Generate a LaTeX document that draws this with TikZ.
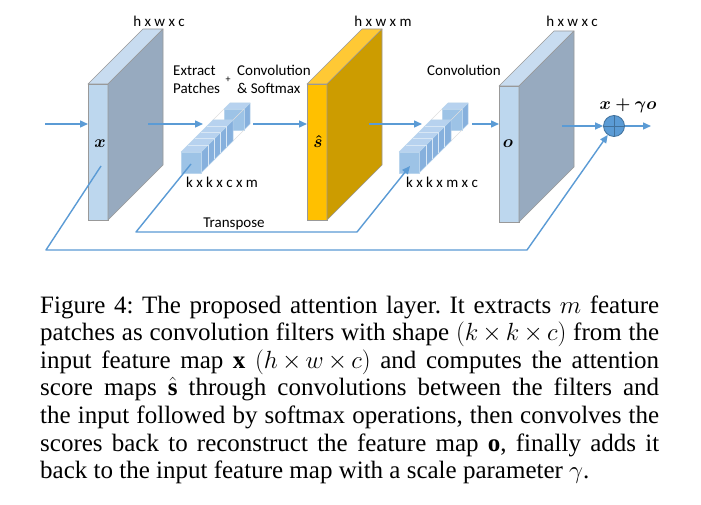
\documentclass[tikz,border=0pt]{standalone}
\usepackage{amsmath}
\usepackage{fontspec}
\setmainfont{Liberation Serif}
\newfontfamily\labfont{Carlito}
\usetikzlibrary{arrows.meta,calc}
\definecolor{arrblue}{HTML}{5B9BD5}
\definecolor{circblue}{HTML}{41719C}
\definecolor{bfront}{HTML}{BDD7EE}
\definecolor{btop}{HTML}{C8DCF0}
\definecolor{bside}{HTML}{97AABF}
\definecolor{gfront}{HTML}{FFC000}
\definecolor{gtop}{HTML}{FFC935}
\definecolor{gside}{HTML}{CC9C00}
\definecolor{cfront}{HTML}{9DC3E6}
\definecolor{ctop}{HTML}{B7D2EF}
\definecolor{cside}{HTML}{86B0DD}
\newcommand\capfmt{\fontsize{25}{27.6}\selectfont\frenchspacing}
\newcommand\capline[1]{\medmuskip=3mu\relax\makebox[619pt][s]{#1}}
\tikzset{
  slabbox/.style={rectangle,draw=gray!80,line width=0.6pt,minimum width=20pt,minimum height=136pt,inner sep=0pt,outer sep=0pt},
  slabline/.style={draw=gray!80,line width=0.6pt,line join=round},
  cubeline/.style={draw=cfront!70!white,line width=0.5pt,line join=round},
  wire/.style={draw=gray!25,line width=0.6pt},
  slice/.style={draw=white!60!cfront,line width=0.6pt},
  arr/.style={draw=arrblue,line width=1.4pt,-{Triangle[length=8pt,width=7pt]}},
  lab/.style={font=\labfont\fontsize{15}{18}\selectfont,inner sep=0pt,anchor=base},
  labw/.style={font=\labfont\fontsize{15}{18}\selectfont,inner sep=0pt,anchor=base west},
  mlab/.style={font=\fontsize{17}{20}\selectfont,inner sep=0pt,anchor=base},
  capnode/.style={font=\capfmt,inner sep=0pt,anchor=base west},
}
\newcommand\drawslab[6]{%
  \node[slabbox,fill=#4] (#1) at (#2,#3) {};
  \filldraw[fill=#5,slabline] (#1.north west) -- (#1.north east) -- ++(55,-55) -- ++(-20,0) -- cycle;
  \filldraw[fill=#6,slabline] (#1.north east) -- ++(55,-55) -- ++(0,136) -- (#1.south east) -- cycle;
}
\newcommand\patchcube[3]{%
  \begin{scope}[shift={(#2,#3)}]
    \coordinate (#1) at (0,0);
    \filldraw[fill=cside,cubeline] (63,-43) -- (69,-49) -- (69,-28) -- (63,-22) -- cycle;
    \filldraw[fill=ctop,cubeline] (43,-43) -- (63,-43) -- (69,-49) -- (49,-49) -- cycle;
    \filldraw[fill=cfront,cubeline] (43,-43) rectangle (63,-22);
    \draw[wire] (32,-32) -- (43,-43) (52,-32) -- (63,-43) (52,-11) -- (63,-22) (32,-11) -- (43,-22);
    \filldraw[fill=cside,cubeline] (20,0) -- (52,-32) -- (52,-11) -- (20,21) -- cycle;
    \filldraw[fill=ctop,cubeline] (0,0) -- (20,0) -- (52,-32) -- (32,-32) -- cycle;
    \foreach \t in {7,13.5,19.5,25.7} {\draw[slice] (\t,-\t) -- (20+\t,-\t) -- (20+\t,21-\t);}
    \filldraw[fill=cfront,cubeline] (0,0) rectangle (20,21);
  \end{scope}
}
\begin{document}
\begin{tikzpicture}[x=1pt,y=-1pt]
\useasboundingbox[fill=white] (0,0) rectangle (701,505);

% slabs
\drawslab{X}{98}{152}{bfront}{btop}{bside}
\drawslab{S}{317}{152}{gfront}{gtop}{gside}
\drawslab{O}{509}{154}{bfront}{btop}{bside}

% patch cubes
\patchcube{P1}{181}{152}
\patchcube{P2}{399}{152}

% slab labels
\node[mlab] (xl) at (100,148) {$\boldsymbol{x}$};
\node[mlab] (sl) at (318,148) {$\boldsymbol{\hat{s}}$};
\node[mlab] (ol) at (508,148) {$\boldsymbol{o}$};

\node[lab] (dx) at (159,27) {h x w x c};
\node[lab] (ds) at (383,27) {h x w x m};
\node[lab] (do) at (572,27) {h x w x c};

\node[labw] (ex1) at (173,76) {Extract};
\node[labw] (ex2) at (173,94) {Patches};
\node[font=\labfont\fontsize{10}{12}\selectfont,inner sep=0pt] (plus) at (228,80) {+};
\node[labw] (cs1) at (237,76) {Convolution};
\node[labw] (cs2) at (237,94) {\& Softmax};
\node[lab] (cv2) at (464,76) {Convolution};
\node[lab] (k1) at (222,188) {k x k x c x m};
\node[lab] (k2) at (442,188) {k x k x m x c};
\node[lab] (tr) at (234,227) {Transpose};

% sum circle
\node[circle,minimum size=21pt,inner sep=0pt,fill=arrblue,draw=circblue,line width=0.8pt] (sum) at (614,126) {};
\draw[circblue,line width=0.8pt] (sum.north) -- (sum.south) (sum.west) -- (sum.east);
\node[font=\fontsize{16}{19}\selectfont,inner sep=0pt,anchor=base] (sumlab) at (628,110) {$\boldsymbol{x+\gamma o}$};

% coordinates
\coordinate (in) at (45,124);
\coordinate (xs) at (148,124);
\coordinate (p1in) at (203,124);
\coordinate (p1out) at (253,124);
\coordinate (ss) at (369,124);
\coordinate (p2in) at (422,124);
\coordinate (p2out) at (472,124);
\coordinate (os) at (562,126);
\coordinate (out) at (651,126);
\coordinate (fb1) at (101,166);
\coordinate (fb2) at (46,250);
\coordinate (fb3) at (527,250);
\coordinate (tp1) at (191,164);
\coordinate (tp2) at (136,232);
\coordinate (tp3) at (357,232);
\coordinate (tp4) at (410,166);

% arrows
\draw[arr] (in) -- (in -| X.west);
\draw[arr] (xs) -- (p1in);
\draw[arr] (p1out) -- (p1out -| S.west);
\draw[arr] (ss) -- (p2in);
\draw[arr] (p2out) -- (p2out -| O.west);
\draw[arr] (os) -- (sum.west);
\draw[arr] (sum.east) -- (out);
\draw[arr,line join=round] (fb1) -- (fb2) -- (fb3) -- (sum);
\draw[arr,line join=round] (tp1) -- (tp2) -- (tp3) -- (tp4);

% caption
\node[capnode] (cap1) at (40,313) {\capline{Figure 4: The proposed attention layer. It extracts $m$ feature}};
\node[capnode] (cap2) at (40,340.6) {\capline{patches as convolution filters with shape $(k\times k\times c)$ from the}};
\node[capnode] (cap3) at (40,368.2) {\capline{input feature map $\mathbf{x}$ $(h\times w\times c)$ and computes the attention}};
\node[capnode] (cap4) at (40,395.8) {\capline{score maps $\hat{\mathbf{s}}$ through convolutions between the filters and}};
\node[capnode] (cap5) at (40,423.4) {\capline{the input followed by softmax operations, then convolves the}};
\node[capnode] (cap6) at (40,451) {\capline{scores back to reconstruct the feature map $\mathbf{o}$, finally adds it}};
\node[capnode] (cap7) at (40,478.6) {back to the input feature map with a scale parameter $\gamma$.};
\end{tikzpicture}
\end{document}
